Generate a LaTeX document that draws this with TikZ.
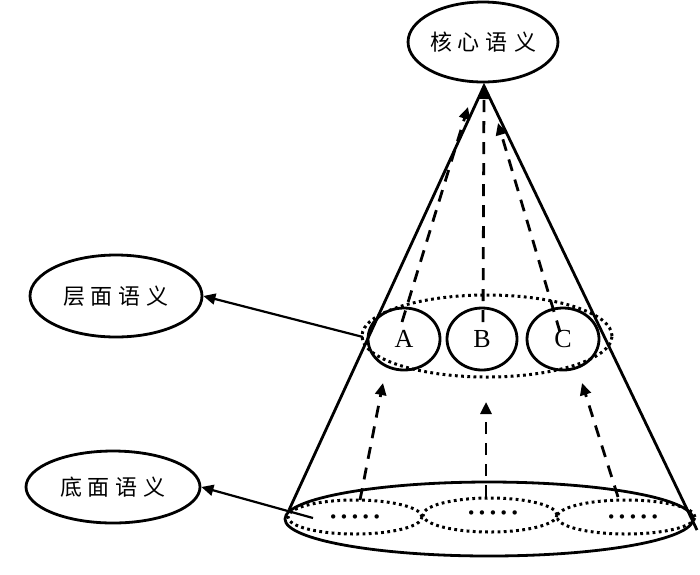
\documentclass[tikz,border=0pt]{standalone}
\usepackage{fontspec}
\setmainfont{Liberation Serif}
\newfontfamily\cjk{Noto Sans CJK SC}
\newfontfamily\dotfont{DejaVu Sans}
\usetikzlibrary{shapes.geometric,arrows.meta}
\newcommand{\cjkword}[4]{{\cjk\fontsize{22pt}{24pt}\selectfont #1\hspace{6pt}#2\hspace{6pt}#3\hspace{6pt}#4}}
\newcommand{\dotrow}{{\dotfont\fontsize{15pt}{16pt}\selectfont •\hspace{2pt}•\hspace{2pt}•\hspace{2pt}•\hspace{2pt}•}}
\tikzset{
  solidline/.style={line width=2.8pt},
  ell/.style={ellipse, draw, line width=2.8pt, inner sep=0pt},
  dotell/.style={ellipse, draw, line width=3pt, dash pattern=on 2.8pt off 3.4pt, inner sep=0pt},
  dasharrow/.style={line width=2.8pt, dash pattern=on 12pt off 9pt, -{Triangle[length=12pt,width=11pt]}},
  solidarrow/.style={line width=2.2pt, -{Triangle[length=12pt,width=11pt]}},
  letter/.style={font=\fontsize{26pt}{28pt}\selectfont}
}
\begin{document}
\begin{tikzpicture}[x=1pt,y=-1pt]
\useasboundingbox (0,0) rectangle (700,574);
% main nodes
\node[ell, minimum width=142pt, minimum height=80pt] (core) at (483,42) {\cjkword{核}{心}{语}{义}};
\node[ell, minimum width=172pt, minimum height=82pt] (layer) at (116,296) {\cjkword{层}{面}{语}{义}};
\node[ell, minimum width=174pt, minimum height=72pt] (base) at (113,487) {\cjkword{底}{面}{语}{义}};
% bottom ellipse
\node[ell, minimum width=408pt, minimum height=74pt] (bottom) at (489,519) {};
\node[dotell, minimum width=134pt, minimum height=34pt] (b1) at (355,517) {};
\node[dotell, minimum width=134pt, minimum height=34pt] (b2) at (490,515) {};
\node[dotell, minimum width=138pt, minimum height=34pt] (b3) at (626,517) {};
\node (d1) at (355,519) {\dotrow};
\node (d2) at (493,515) {\dotrow};
\node (d3) at (633,519) {\dotrow};
% middle layer
\node[dotell, minimum width=250pt, minimum height=82pt] (mid) at (487,336) {};
\node[ell, minimum width=72pt, minimum height=62pt, letter] (A) at (404,339) {A};
\node[ell, minimum width=70pt, minimum height=62pt, letter] (B) at (482,339) {B};
\node[ell, minimum width=72pt, minimum height=62pt, letter] (C) at (563,339) {C};
% cone
\coordinate (apex) at (484,86);
\coordinate (cl) at (289,510);
\coordinate (cr) at (697,530);
\draw[solidline] (cl) -- (apex) -- (cr);
% upper dashed arrows
\coordinate (a0) at (402,322); \coordinate (a1) at (468,107);
\coordinate (bb0) at (483,322); \coordinate (bb1) at (484,87);
\coordinate (c0) at (560,332); \coordinate (c1) at (498,123);
\draw[dasharrow] (a0) -- (a1);
\draw[dasharrow] (bb0) -- (bb1);
\draw[dasharrow] (c0) -- (c1);
% lower dashed arrows
\coordinate (l0) at (360,500); \coordinate (l1) at (383,383);
\coordinate (m0) at (486,497); \coordinate (m1) at (486,402);
\coordinate (r0) at (618,497); \coordinate (r1) at (582,383);
\draw[dasharrow] (l0) -- (l1);
\draw[dasharrow] (m0) -- (m1);
\draw[dasharrow] (r0) -- (r1);
% side arrows
\coordinate (t1) at (363,337);
\coordinate (t2) at (313,518);
\draw[solidarrow] (t1) -- (layer.east);
\draw[solidarrow] (t2) -- (base.east);
\end{tikzpicture}
\end{document}
